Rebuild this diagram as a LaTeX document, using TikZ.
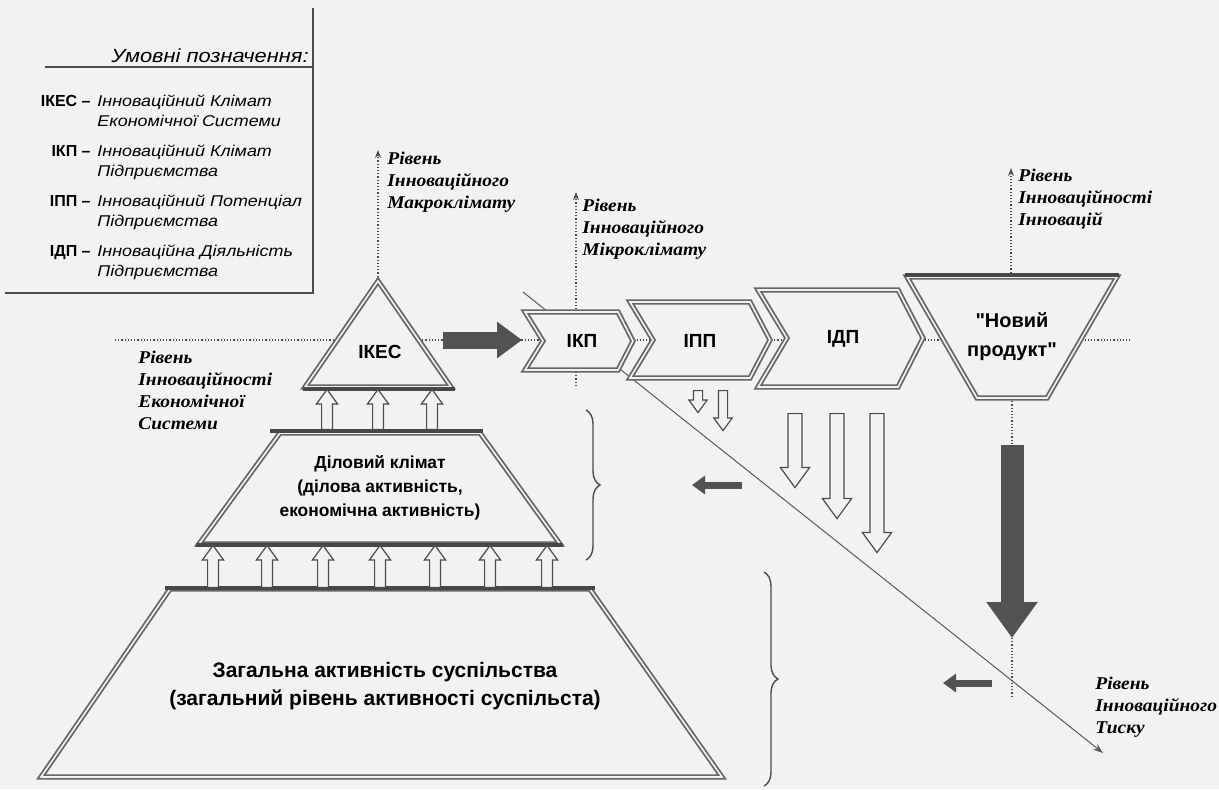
\documentclass[tikz,border=0pt]{standalone}
\usepackage{fontspec}
\setmainfont{Liberation Sans}
\newfontfamily\lvlfont[FakeStretch=1.08]{Liberation Serif}
\newfontfamily\legfont[FakeStretch=1.15]{Liberation Sans}
\newfontfamily\prodfont[Ligatures=TeXOff]{Liberation Sans}
\usetikzlibrary{arrows.meta}
\usetikzlibrary{shapes.arrows}
\usetikzlibrary{decorations.pathreplacing}
\definecolor{bg}{gray}{0.95}
\definecolor{edge}{gray}{0.40}

\begin{document}
\begin{tikzpicture}[x=0.5pt, y=-0.5pt,
		frame/.style = {draw=edge, line width=0.9pt, double=bg, double distance=0.8pt, fill=bg, line join=miter},
		shelf/.style = {draw=black!72, line width=2.1pt},
		lbl/.style = {font=\bfseries\fontsize{9.5}{12}\selectfont, align=center, inner sep=0pt},
		lvl/.style = {font=\lvlfont\bfseries\itshape\fontsize{9}{11}\selectfont, align=left, anchor=north west, inner sep=0pt},
		lvlline/.style = {densely dotted, black!70, line width=0.6pt, -{Stealth[length=4pt, width=3pt]}},
		hollow/.style = {single arrow, draw=black!70, fill=bg, line width=0.6pt, anchor=tail, single arrow tip angle=72},
		fat/.style = {draw=black!68, line width=#1},
		brace/.style = {decorate, decoration={brace, amplitude=7pt}, draw=black!70, line width=0.7pt}
		]
		
		%Background
		\useasboundingbox (0,0) rectangle (1219,789);
		\fill[bg] (0,0) rectangle (1219,789);
		
		%Legend
		\draw[black!70, line width=0.8pt] (313,8) -- (313,293) -- (5,293);
		\draw[black!70, line width=0.8pt] (45,67) -- (313,67);
		\node[anchor=base east, inner sep=0pt, font=\legfont\itshape\fontsize{9.5}{11}\selectfont] (legtitle) at (309,62) {Умовні позначення:};
		\foreach \y/\ab/\la/\lb in {106/ІКЕС/Інноваційний Клімат/Економічної Системи,
				156/ІКП/Інноваційний Клімат/Підприємства,
				206/ІПП/Інноваційний Потенціал/Підприємства,
				256/ІДП/Інноваційна Діяльність/Підприємства}{
			\node[anchor=base east, inner sep=0pt, font=\bfseries\fontsize{8}{9}\selectfont] (ab\y) at (91,\y) {\ab\ –};
			\node[anchor=north west, inner sep=0pt, align=left, font=\legfont\itshape\fontsize{7.8}{10}\selectfont] (tx\y) at (97,\y-11) {\la\\\lb};
		}
		
		%Level lines
		\draw[densely dotted, black!70, line width=0.6pt] (115,340) -- (1130,340);
		\draw[lvlline] (378,280) -- (378,150);
		\draw[lvlline] (576,386) -- (576,192);
		\draw[lvlline] (1011,276) -- (1011,168);
		\draw[densely dotted, black!70, line width=0.6pt] (1012,398) -- (1012,698);
		\draw[black!65, line width=0.5pt, -{Stealth[length=5pt, width=3.5pt]}] (523,292) -- (1103,753);
		
		%Shapes
		\draw[frame] (378,281) -- (451,387) -- (305,387) -- cycle;
		\draw[shelf] (303,389) -- (455,389);
		\draw[frame] (280,433) -- (480,433) -- (560,544) -- (199,544) -- cycle;
		\draw[shelf] (270,431) -- (483,431);
		\draw[shelf] (196,545) -- (563,545);
		\draw[frame] (170,589) -- (590,589) -- (722,777) -- (41,777) -- cycle;
		\draw[shelf] (165,588) -- (595,588);
		\draw[frame] (525,312) -- (618,312) -- (633,341) -- (618,370) -- (525,370) -- (543,341) -- cycle;
		\draw[frame] (630,302) -- (750,302) -- (770,340) -- (750,378) -- (630,378) -- (653,340) -- cycle;
		\draw[frame] (758,290) -- (898,290) -- (923,338) -- (898,387) -- (758,387) -- (787,338) -- cycle;
		\draw[frame] (907,277) -- (1117,277) -- (1047,398) -- (977,398) -- cycle;
		\draw[shelf] (905,275) -- (1119,275);
		
		%Nodes
		\node[lbl]	(ikes)		at	(380,352)	{ІКЕС};
		\node[lbl]	(ikp)		at	(582,341)	{ІКП};
		\node[lbl]	(ipp)		at	(700,341)	{ІПП};
		\node[lbl]	(idp)		at	(843,339)	{ІДП};
		\node[lbl, font=\prodfont\bfseries\fontsize{10}{14.5}\selectfont]	(product)	at	(1012,337)	{"Новий\\продукт"};
		\node[lbl, font=\bfseries\fontsize{8.7}{12}\selectfont]	(business)	at	(380,488)	{Діловий клімат\\(ділова активність,\\економічна активність)};
		\node[lbl, font=\bfseries\fontsize{10.5}{14}\selectfont]	(society)	at	(385,686)	{Загальна активність суспільства\\(загальний рівень активності суспільста)};
		
		\node[lvl]	(macro)		at	(387,152)	{Рівень\\Інноваційного\\Макроклімату};
		\node[lvl]	(micro)		at	(582,199)	{Рівень\\Інноваційного\\Мікроклімату};
		\node[lvl]	(innov)		at	(1018,169)	{Рівень\\Інноваційності\\Інновацій};
		\node[lvl]	(econ)		at	(138,351)	{Рівень\\Інноваційності\\Економічної\\Системи};
		\node[lvl]	(press)		at	(1095,677)	{Рівень\\Інноваційного\\Тиску};
		
		%Arrows
		\coordinate (ikes-out) at (443,340);
		\coordinate (ikp-in) at (522,340);
		\draw[fat=8.5pt, -{Triangle[length=12.5pt, width=17.5pt]}] (ikes-out) -- (ikp-in);
		\coordinate (prod-out) at (1012,445);
		\coordinate (prod-tip) at (1012,638);
		\draw[fat=11.5pt, -{Triangle[length=18pt, width=24.5pt]}] (prod-out) -- (prod-tip);
		\coordinate (back1) at (742,485);
		\coordinate (back1-tip) at (692,485);
		\draw[fat=3.5pt, -{Triangle[length=6.5pt, width=9pt]}] (back1) -- (back1-tip);
		\coordinate (back2) at (992,683);
		\coordinate (back2-tip) at (943,683);
		\draw[fat=3.5pt, -{Triangle[length=6.5pt, width=9pt]}] (back2) -- (back2-tip);
		
		\foreach \x in {327,378,432}
			\node[hollow, rotate=90, inner sep=2.4pt, single arrow head extend=2.6pt, minimum height=20pt] (upa\x) at (\x,430) {};
		\foreach \x in {213,267,323,380,435,490,547}
			\node[hollow, rotate=90, inner sep=2.4pt, single arrow head extend=2.6pt, minimum height=21pt] (upb\x) at (\x,588) {};
		\node[hollow, rotate=-90, inner sep=2pt, single arrow head extend=2.3pt, minimum height=11pt] (dn1) at (698,390) {};
		\node[hollow, rotate=-90, inner sep=2pt, single arrow head extend=2.3pt, minimum height=20pt] (dn2) at (723,390) {};
		\foreach \x/\l in {795/37pt, 837/52.5pt, 877/69.5pt}
			\node[hollow, rotate=-90, inner sep=3.2pt, single arrow head extend=3.8pt, minimum height=\l] (dn\x) at (\x,413) {};
		
		%Braces
		\draw[brace] (586,410) -- (586,560);
		\draw[brace] (764,572) -- (764,786);
	\end{tikzpicture}
\end{document}
